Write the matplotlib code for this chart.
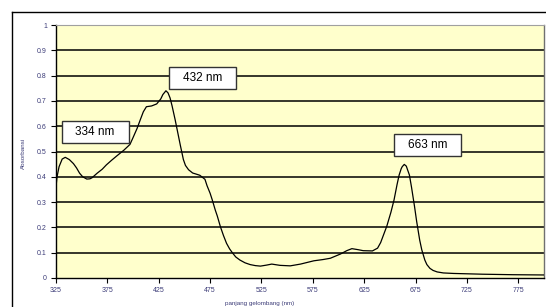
import matplotlib
matplotlib.use("Agg")
import matplotlib.pyplot as plt
from matplotlib.patches import Rectangle
from matplotlib.lines import Line2D

plt.rcParams['font.family'] = ['Liberation Sans', 'DejaVu Sans']

# spektrum serapan
panjang_gelombang = [325, 326, 328, 331, 334, 338, 342, 345, 348, 351, 355, 358,
                     360, 365, 370, 374, 379, 384, 391, 397, 400, 404, 407, 410,
                     413, 418, 423, 427, 429, 432, 434, 436, 438, 441, 443, 446,
                     449, 451, 454, 458, 462, 465, 470, 472, 475, 477, 480, 482,
                     485, 488, 491, 494, 497, 500, 504, 509, 514, 519, 524, 530,
                     535, 543, 553, 563, 576, 585, 592, 602, 608, 613, 619, 624,
                     633, 638, 641, 647, 651, 654, 657, 659, 661, 662, 664, 666,
                     667, 669, 671, 674, 676, 679, 681, 684, 686, 689, 692, 696,
                     702, 712, 740, 770, 800]
absorbansi = [0.36, 0.40, 0.44, 0.47, 0.477, 0.468, 0.452, 0.435, 0.414, 0.40,
              0.391, 0.392, 0.396, 0.414, 0.43, 0.447, 0.465, 0.482, 0.505, 0.528,
              0.555, 0.592, 0.625, 0.657, 0.677, 0.68, 0.688, 0.708, 0.725, 0.74,
              0.732, 0.712, 0.68, 0.625, 0.585, 0.525, 0.468, 0.445, 0.428, 0.415,
              0.41, 0.406, 0.39, 0.365, 0.335, 0.31, 0.269, 0.245, 0.203, 0.168,
              0.137, 0.115, 0.098, 0.083, 0.071, 0.06, 0.053, 0.049, 0.047, 0.051,
              0.055, 0.05, 0.048, 0.055, 0.068, 0.073, 0.078, 0.095, 0.108, 0.116,
              0.112, 0.108, 0.107, 0.118, 0.14, 0.205, 0.26, 0.308, 0.37, 0.407,
              0.432, 0.44, 0.449, 0.442, 0.43, 0.407, 0.36, 0.282, 0.225, 0.15,
              0.112, 0.071, 0.053, 0.038, 0.03, 0.024, 0.02, 0.018, 0.015, 0.013,
              0.012]

puncak_label = ["334 nm", "432 nm", "663 nm"]
puncak_x = [363, 468, 687]
puncak_y = [0.577, 0.789, 0.524]

xticks = [325, 375, 425, 475, 525, 575, 625, 675, 725, 775]
yticks = [0, 0.1, 0.2, 0.3, 0.4, 0.5, 0.6, 0.7, 0.8, 0.9, 1]
ytick_labels = ["0", "0.1", "0.2", "0.3", "0.4", "0.5", "0.6", "0.7", "0.8", "0.9", "1"]

W, H = 546, 307
fig = plt.figure(figsize=(W / 100, H / 100), dpi=100)
fig.patch.set_facecolor("white")

ax = fig.add_axes([56 / W, 1 - 278 / H, (544 - 56) / W, (278 - 25) / H])
ax.set_facecolor("#FFFFCC")
ax.set_xlim(325, 800)
ax.set_ylim(0, 1)

for v in yticks[1:-1]:
    ax.axhline(v, color="black", lw=1.1, zorder=1)

ax.plot(panjang_gelombang, absorbansi, color="black", lw=0.9, zorder=3)

teks_warna = "#3C3C78"
ax.set_xticks(xticks)
ax.set_xticklabels([str(t) for t in xticks], fontsize=5, color=teks_warna)
ax.set_yticks(yticks)
ax.set_yticklabels(ytick_labels, fontsize=5, color=teks_warna)
ax.tick_params(axis="both", direction="out", length=3.5, width=0.8, color="black", pad=3)

ax.spines["left"].set_color("black")
ax.spines["bottom"].set_color("black")
ax.spines["left"].set_linewidth(1.0)
ax.spines["bottom"].set_linewidth(1.0)
ax.spines["top"].set_color("#A0A0A0")
ax.spines["right"].set_color("#707070")
ax.spines["top"].set_linewidth(0.8)
ax.spines["right"].set_linewidth(1.0)

# kotak label puncak
lebar, tinggi = 67, 22
for lab, px, py in zip(puncak_label, puncak_x, puncak_y):
    cx, cy = ax.transData.transform((px, py))
    fx, fy = cx / W, cy / H
    fig.patches.append(Rectangle((fx - lebar / 2 / W, fy - tinggi / 2 / H), lebar / W, tinggi / H,
                                 transform=fig.transFigure, facecolor="white",
                                 edgecolor="#333333", lw=1.0, zorder=5))
    fig.text(fx, fy, lab, ha="center", va="center", fontsize=8.5, color="black", zorder=6)

fig.text(23 / W, 1 - 153 / H, "Absorbansi", rotation=90, ha="center", va="center",
         fontsize=4.5, color=teks_warna)
fig.text(260 / W, 1 - 304 / H, "panjang gelombang (nm)", ha="center", va="center",
         fontsize=4.5, color=teks_warna)

# bingkai luar halaman
fig.add_artist(Line2D([12 / W, 12 / W], [0, 1 - 12 / H], transform=fig.transFigure, color="black", lw=1.0))
fig.add_artist(Line2D([12 / W, 1], [1 - 12 / H, 1 - 12 / H], transform=fig.transFigure, color="black", lw=1.0))

fig.savefig("out.png", dpi=100)
